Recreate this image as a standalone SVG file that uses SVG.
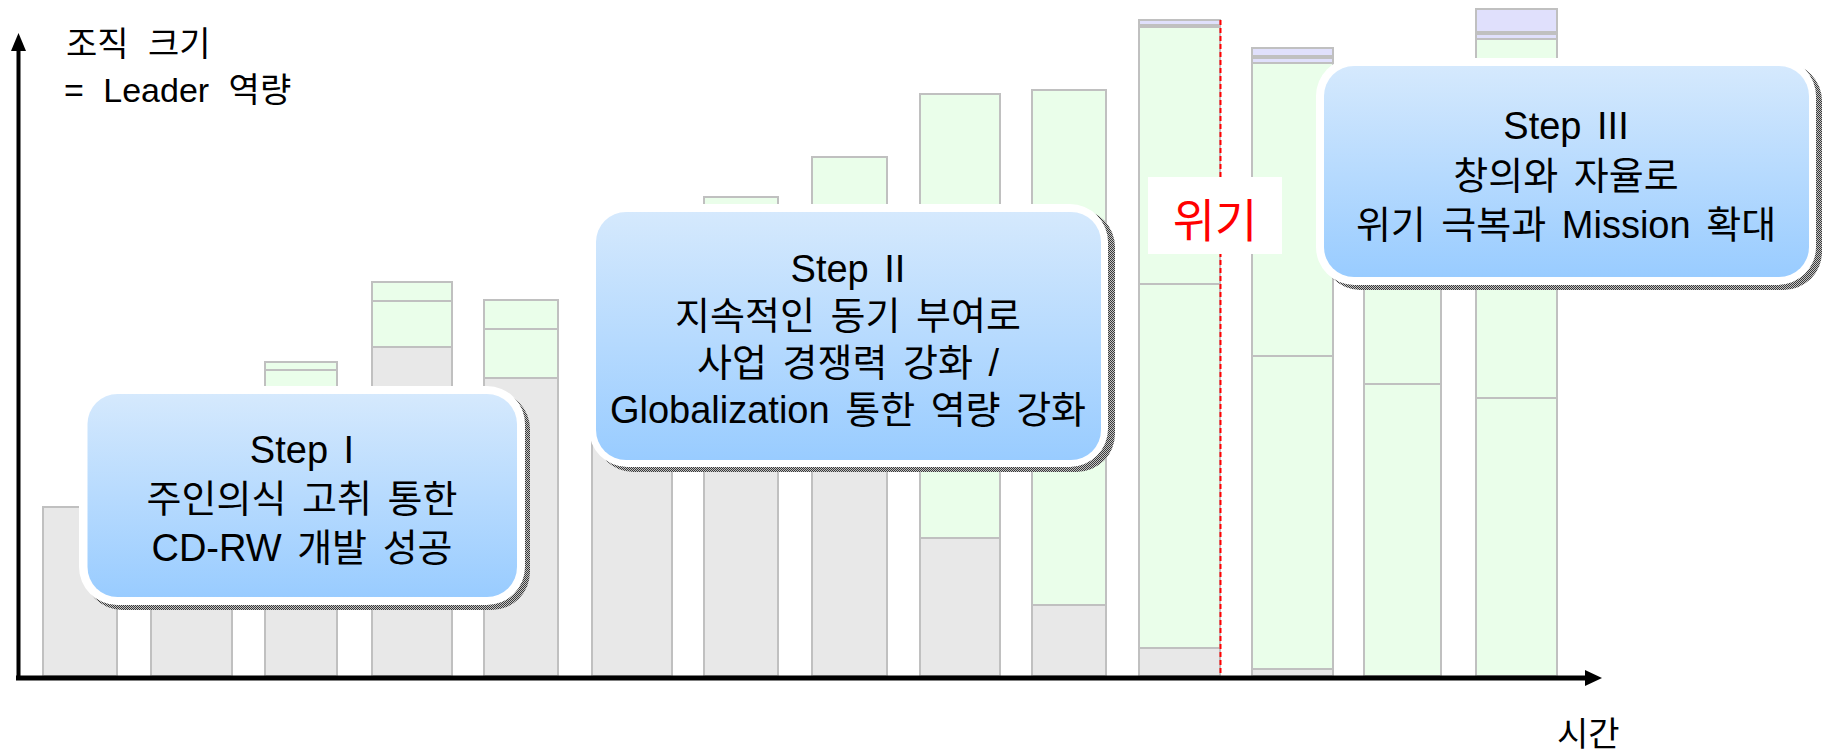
<svg xmlns="http://www.w3.org/2000/svg" width="1827" height="754" viewBox="0 0 1827 754">
<style>
.g{fill:#E8E8E8;stroke:#C0C0C0;stroke-width:2}
.G{fill:#EAFEEA;stroke:#C0C0C0;stroke-width:2}
.P{fill:#E0E0FC;stroke:#C0C0C0;stroke-width:2}
.t{font-family:"Liberation Sans","Noto Sans CJK KR",sans-serif;fill:#000}
.bt{font-size:38px;text-anchor:middle;word-spacing:5px}
.ax{font-size:34px;word-spacing:10px}
.shadow{fill:url(#chk)}
.outer{fill:#FFFFFF}
.inner{fill:url(#blue)}
</style>
<defs>
<linearGradient id="blue" x1="0" y1="0" x2="0" y2="1">
<stop offset="0" stop-color="#D5E9FD"/>
<stop offset="1" stop-color="#99CCFF"/>
</linearGradient>
<pattern id="chk" width="2" height="2" patternUnits="userSpaceOnUse">
<rect width="2" height="2" fill="#C4C4C4"/>
<rect width="1" height="1" fill="#3A3A3A"/>
<rect x="1" y="1" width="1" height="1" fill="#3A3A3A"/>
</pattern>
</defs>
<rect width="1827" height="754" fill="#FFFFFF"/>

<g id="bar1"><rect class="g" x="43" y="507" width="74" height="169"/></g>
<g id="bar2"><rect class="g" x="151" y="450" width="81" height="226"/></g>
<g id="bar3"><rect class="G" x="265" y="362" width="72" height="8"/><rect class="G" x="265" y="370" width="72" height="40"/><rect class="g" x="265" y="410" width="72" height="266"/></g>
<g id="bar4"><rect class="G" x="372" y="282" width="80" height="19"/><rect class="G" x="372" y="301" width="80" height="46"/><rect class="g" x="372" y="347" width="80" height="329"/></g>
<g id="bar5"><rect class="G" x="484" y="300" width="74" height="29"/><rect class="G" x="484" y="329" width="74" height="49"/><rect class="g" x="484" y="378" width="74" height="298"/></g>
<g id="bar6"><rect class="g" x="592" y="260" width="80" height="416"/></g>
<g id="bar7"><rect class="G" x="704" y="197" width="74" height="103"/><rect class="g" x="704" y="300" width="74" height="376"/></g>
<g id="bar8"><rect class="G" x="812" y="157" width="75" height="173"/><rect class="g" x="812" y="330" width="75" height="346"/></g>
<g id="bar9"><rect class="G" x="920" y="94" width="80" height="444"/><rect class="g" x="920" y="538" width="80" height="138"/></g>
<g id="bar10"><rect class="G" x="1032" y="90" width="74" height="515"/><rect class="g" x="1032" y="605" width="74" height="71"/></g>
<g id="bar11"><rect class="P" x="1139" y="20" width="81" height="5"/><rect class="G" x="1139" y="27" width="81" height="257"/><rect class="G" x="1139" y="284" width="81" height="364"/><rect class="g" x="1139" y="648" width="81" height="28"/></g>
<g id="bar12"><rect class="P" x="1252" y="48" width="81" height="8"/><rect class="P" x="1252" y="58" width="81" height="5"/><rect class="G" x="1252" y="63" width="81" height="293"/><rect class="G" x="1252" y="356" width="81" height="313"/><rect class="g" x="1252" y="669" width="81" height="7"/></g>
<g id="bar13"><rect class="G" x="1364" y="150" width="77" height="234"/><rect class="G" x="1364" y="384" width="77" height="292"/></g>
<g id="bar14"><rect class="P" x="1476" y="9" width="81" height="23"/><rect class="P" x="1476" y="34" width="81" height="5"/><rect class="G" x="1476" y="39" width="81" height="359"/><rect class="G" x="1476" y="398" width="81" height="278"/></g>

<g id="crisis">
<line x1="1220.5" y1="20" x2="1220.5" y2="676" stroke="#FF0000" stroke-width="2" stroke-dasharray="5,3"/>
<rect x="1148" y="177" width="134" height="77" fill="#FFFFFF"/>
<text class="t" x="1215" y="237" font-size="46" text-anchor="middle" style="fill:#FF0000">위기</text>
</g>

<g id="step1">
<rect class="shadow" x="84" y="391" width="446" height="219" rx="38"/>
<rect class="outer" x="79" y="386" width="446" height="219" rx="38"/>
<rect class="inner" x="87.5" y="394" width="429.5" height="203" rx="30"/>
<text class="t bt" x="302" y="463">Step I</text>
<text class="t bt" x="302" y="512">주인의식 고취 통한</text>
<text class="t bt" x="302" y="561">CD-RW 개발 성공</text>
</g>

<g id="step2">
<rect class="shadow" x="595" y="209" width="520" height="263" rx="38"/>
<rect class="outer" x="589" y="204" width="519" height="263" rx="38"/>
<rect class="inner" x="596" y="212" width="505" height="248" rx="30"/>
<text class="t bt" x="848" y="282">Step II</text>
<text class="t bt" x="848" y="329">지속적인 동기 부여로</text>
<text class="t bt" x="848" y="376">사업 경쟁력 강화 /</text>
<text class="t bt" x="848" y="423">Globalization 통한 역량 강화</text>
</g>

<g id="step3">
<rect class="shadow" x="1322" y="63" width="500" height="227" rx="38"/>
<rect class="outer" x="1316" y="58" width="500" height="227" rx="38"/>
<rect class="inner" x="1324" y="66" width="485" height="211" rx="30"/>
<text class="t bt" x="1566" y="139">Step III</text>
<text class="t bt" x="1566" y="189">창의와 자율로</text>
<text class="t bt" x="1566" y="238">위기 극복과 Mission 확대</text>
</g>

<g id="connectors">
<line x1="18.5" y1="48" x2="18.5" y2="680" stroke="#000" stroke-width="4"/>
<polygon points="18.5,33 11,51 26,51" fill="#000"/>
<line x1="16" y1="678" x2="1588" y2="678" stroke="#000" stroke-width="5"/>
<polygon points="1602,678 1585,670 1585,686" fill="#000"/>
</g>

<g id="labels">
<text class="t ax" x="66" y="56">조직 크기</text>
<text class="t ax" x="64" y="102">= Leader 역량</text>
<text class="t ax" x="1557" y="746">시간</text>
</g>
</svg>
